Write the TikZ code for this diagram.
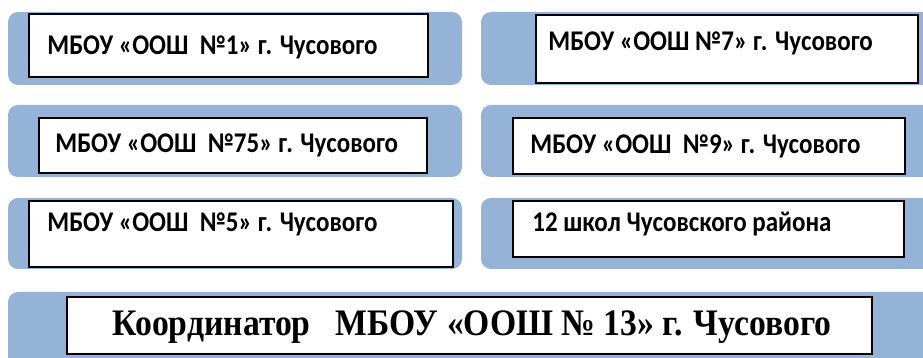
\documentclass[tikz,border=0pt]{standalone}
\usepackage{fontspec}
\setmainfont{Carlito}
\newfontfamily\coordfont{Liberation Serif}
\newcommand{\tallrow}[1]{\scalebox{1}[1.14]{#1}}
\begin{document}
\begin{tikzpicture}[x=0.5pt, y=-0.5pt,
    bar/.style={fill=barblue, rounded corners=5pt},
    schoolbox/.style={draw=black, fill=white, line width=1.1pt},
    schoolname/.style={anchor=west, inner sep=0pt, font=\bfseries\fontsize{12.5}{15}\selectfont},
    coordname/.style={inner sep=0pt, font=\coordfont\bfseries\fontsize{17}{20}\selectfont}
]

    % Цвет полос
    \definecolor{barblue}{RGB}{149, 179, 215}

    \useasboundingbox (0,0) rectangle (923,358);
    \clip (0,0) rectangle (923,358);

    % Полосы фона
    \foreach \ya/\yb in {12/85, 105/177, 198/269} {
        \fill[bar] (8,\ya) rectangle (462,\yb);
        \fill[bar] (481,\ya) rectangle (945,\yb);
    }
    \fill[bar] (8,292) rectangle (945,380);

    % Рамки школ
    \draw[schoolbox] (29,14)  rectangle (428,77);
    \draw[schoolbox] (536,15) rectangle (918,83);
    \draw[schoolbox] (39,118) rectangle (427,173);
    \draw[schoolbox] (513,118) rectangle (905,174);
    \draw[schoolbox] (29,201) rectangle (453,267);
    \draw[schoolbox] (513,201) rectangle (904,257);
    \draw[schoolbox] (67,297) rectangle (872,354);

    % Названия школ
    \node[schoolname] (s1)  at (47,47)   {\tallrow{МБОУ «ООШ\ \ №1» г. Чусового}};
    \node[schoolname] (s7)  at (548,43)  {\tallrow{МБОУ «ООШ №7» г. Чусового}};
    \node[schoolname] (s75) at (55,145)  {\tallrow{МБОУ «ООШ\ \ №75» г. Чусового}};
    \node[schoolname] (s9)  at (530,146) {\tallrow{МБОУ «ООШ\ \ №9» г. Чусового}};
    \node[schoolname] (s5)  at (47,224)  {\tallrow{МБОУ «ООШ\ \ №5» г. Чусового}};
    \node[schoolname] (s12) at (532,224) {\tallrow{12 школ Чусовского района}};

    % Координатор
    \node[coordname] (coord) at (472,327) {\scalebox{0.99}[1.1]{Координатор\ \ \ МБОУ «ООШ № 13» г. Чусового}};

\end{tikzpicture}
\end{document}
